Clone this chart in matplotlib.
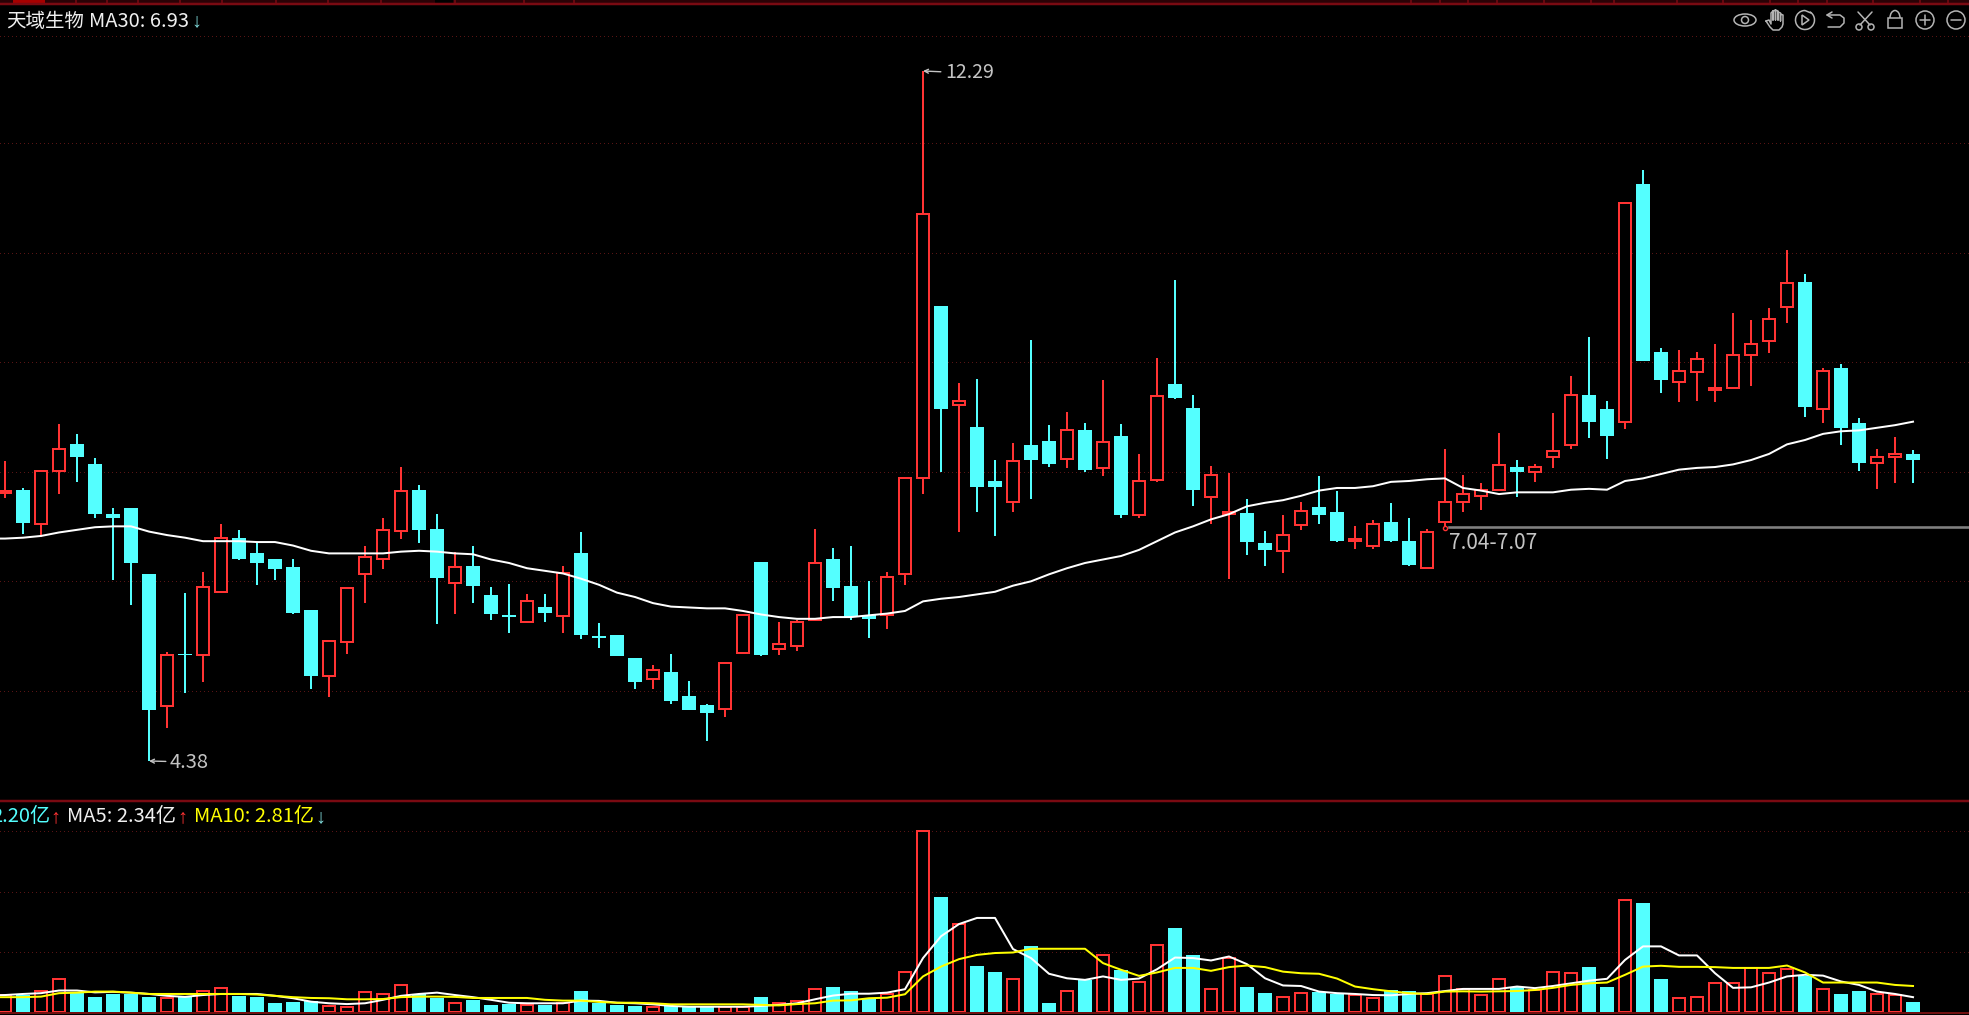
import matplotlib
matplotlib.use("Agg")
import matplotlib.pyplot as plt
from matplotlib.patches import Circle, Ellipse, Rectangle, Arc, Polygon

plt.rcParams['font.family'] = ['Noto Sans CJK SC', 'DejaVu Sans']

# daily k-line, prices
opens = [7.45, 7.49, 7.10, 7.70, 8.01, 7.79, 7.21, 7.28, 6.52, 5.01, 5.61, 5.59, 6.32, 6.94, 6.77, 6.70, 6.60, 6.11, 5.35, 5.74,
         6.52, 6.70, 7.02, 7.49, 7.04, 6.42, 6.62, 6.28, 6.05, 5.97, 6.14, 6.04, 6.76, 5.81, 5.83, 5.56, 5.32, 5.40, 5.13, 5.02,
         4.98, 5.62, 6.66, 5.66, 5.70, 6.00, 6.69, 6.39, 6.05, 6.05, 6.52, 7.63, 9.60, 8.46, 8.21, 7.59, 7.35, 8.00, 8.05, 7.84,
         8.18, 7.74, 8.11, 7.20, 7.60, 8.70, 8.43, 7.41, 7.21, 7.22, 6.88, 6.79, 7.08, 7.29, 7.24, 6.90, 6.84, 7.12, 6.90, 6.59,
         7.12, 7.35, 7.42, 7.49, 7.75, 7.69, 7.86, 8.00, 8.58, 8.41, 8.27, 11.00, 9.07, 8.72, 8.84, 8.63, 8.66, 9.03, 9.20, 9.59,
         9.87, 8.42, 8.89, 8.25, 7.80, 7.86, 7.90]
closes = [7.47, 7.11, 7.70, 7.96, 7.86, 7.21, 7.17, 6.65, 4.96, 5.60, 5.59, 6.38, 6.94, 6.70, 6.65, 6.58, 6.08, 5.35, 5.76, 6.36,
          6.72, 7.03, 7.48, 7.03, 6.48, 6.60, 6.39, 6.07, 6.03, 6.21, 6.08, 6.53, 5.82, 5.79, 5.58, 5.29, 5.42, 5.07, 4.96, 4.93,
          5.50, 6.05, 5.60, 5.72, 5.97, 6.65, 6.36, 6.03, 6.01, 6.49, 7.63, 10.65, 8.41, 8.51, 7.52, 7.52, 7.82, 7.83, 7.79, 8.18,
          7.72, 8.04, 7.20, 7.59, 8.56, 8.54, 7.49, 7.66, 7.24, 6.89, 6.80, 6.97, 7.25, 7.20, 6.90, 6.93, 7.10, 6.90, 6.63, 7.01,
          7.35, 7.44, 7.49, 7.77, 7.69, 7.75, 7.93, 8.58, 8.27, 8.11, 10.78, 8.97, 8.75, 8.85, 8.99, 8.66, 9.03, 9.16, 9.45, 9.86,
          8.44, 8.85, 8.20, 7.80, 7.86, 7.90, 7.83]
highs = [7.82, 7.51, 7.72, 8.24, 8.13, 7.85, 7.28, 7.28, 6.52, 5.63, 6.31, 6.55, 7.10, 7.03, 6.89, 6.70, 6.69, 6.11, 5.76, 6.36,
         6.85, 7.17, 7.75, 7.54, 7.21, 6.78, 6.85, 6.38, 6.41, 6.30, 6.30, 6.62, 7.00, 5.96, 5.83, 5.56, 5.48, 5.61, 5.30, 5.03,
         5.50, 6.05, 6.66, 5.97, 6.00, 7.04, 6.82, 6.85, 6.44, 6.55, 7.63, 12.29, 9.60, 8.71, 8.76, 7.83, 8.03, 9.21, 8.23, 8.38,
         8.26, 8.75, 8.24, 7.90, 9.00, 9.89, 8.58, 7.76, 7.68, 7.38, 7.02, 7.20, 7.35, 7.65, 7.48, 7.07, 7.14, 7.34, 7.17, 7.04,
         7.96, 7.66, 7.57, 8.14, 7.83, 7.79, 8.37, 8.79, 9.24, 8.51, 10.78, 11.16, 9.12, 9.09, 9.07, 9.16, 9.52, 9.44, 9.57, 10.24,
         9.96, 8.88, 8.93, 8.31, 7.96, 8.09, 7.95]
lows = [7.40, 6.98, 6.95, 7.44, 7.58, 7.16, 6.45, 6.17, 4.38, 4.76, 5.16, 5.28, 6.31, 6.68, 6.40, 6.45, 6.06, 5.21, 5.11, 5.61,
        6.19, 6.58, 6.93, 6.88, 5.95, 6.07, 6.19, 6.00, 5.85, 5.96, 5.97, 5.85, 5.78, 5.68, 5.58, 5.20, 5.21, 5.03, 4.96, 4.61,
        4.89, 5.61, 5.58, 5.59, 5.64, 5.98, 6.21, 6.00, 5.79, 5.89, 6.40, 7.44, 7.69, 7.00, 7.24, 6.96, 7.23, 7.38, 7.75, 7.74,
        7.69, 7.65, 7.17, 7.16, 7.58, 8.53, 7.30, 7.10, 6.47, 6.74, 6.62, 6.54, 7.03, 7.10, 6.89, 6.81, 6.81, 6.89, 6.61, 6.58,
        7.05, 7.23, 7.26, 7.47, 7.41, 7.58, 7.74, 7.96, 8.08, 7.84, 8.19, 8.96, 8.60, 8.49, 8.51, 8.49, 8.64, 8.68, 9.06, 9.40,
        8.32, 8.26, 8.00, 7.71, 7.50, 7.57, 7.57]
# the first entry of each line lies one day left of the picture
ma30 = [6.93, 6.93, 6.94, 6.96, 7.00, 7.03, 7.06, 7.07, 7.07, 7.01, 6.97, 6.94, 6.90, 6.90, 6.90, 6.89, 6.89, 6.85, 6.79, 6.76, 6.76,
        6.76, 6.76, 6.78, 6.79, 6.78, 6.76, 6.75, 6.69, 6.65, 6.59, 6.56, 6.53, 6.47, 6.40, 6.31, 6.26, 6.19, 6.15, 6.14, 6.13,
        6.13, 6.10, 6.06, 6.03, 6.01, 6.01, 6.03, 6.03, 6.05, 6.07, 6.10, 6.21, 6.24, 6.26, 6.29, 6.32, 6.39, 6.44, 6.52, 6.59,
        6.65, 6.69, 6.73, 6.80, 6.90, 7.00, 7.07, 7.15, 7.21, 7.30, 7.34, 7.37, 7.42, 7.48, 7.51, 7.51, 7.53, 7.58, 7.59, 7.61,
        7.62, 7.51, 7.48, 7.44, 7.46, 7.46, 7.46, 7.49, 7.50, 7.49, 7.59, 7.62, 7.67, 7.72, 7.74, 7.75, 7.78, 7.83, 7.90, 8.01,
        8.06, 8.13, 8.16, 8.17, 8.20, 8.23, 8.27]

# volume panel, in 亿
volume = [2.46, 2.46, 2.60, 3.08, 2.53, 2.39, 2.50, 2.50, 2.40, 2.34, 2.38, 2.63, 2.74, 2.44, 2.39, 2.15, 2.19, 2.24, 2.05, 2.02,
          2.59, 2.51, 2.85, 2.50, 2.34, 2.17, 2.28, 2.09, 2.12, 2.09, 2.09, 2.15, 2.61, 2.15, 2.09, 2.05, 2.02, 2.05, 2.00, 2.02,
          2.02, 2.02, 2.38, 2.17, 2.25, 2.70, 2.77, 2.61, 2.34, 2.50, 3.31, 8.63, 6.15, 5.12, 3.56, 3.33, 3.08, 4.31, 2.16, 2.63,
          3.03, 3.96, 3.41, 2.94, 4.34, 4.99, 3.97, 2.70, 3.85, 2.77, 2.54, 2.40, 2.53, 2.58, 2.50, 2.46, 2.36, 2.65, 2.61, 2.49,
          3.16, 2.69, 2.48, 3.08, 2.75, 2.64, 3.31, 3.27, 3.52, 2.77, 6.02, 5.94, 3.07, 2.36, 2.40, 2.93, 2.93, 3.46, 3.28, 3.43,
          3.19, 2.70, 2.50, 2.61, 2.49, 2.46, 2.20]
vol_ma5 = [2.44, 2.46, 2.50, 2.53, 2.63, 2.63, 2.56, 2.58, 2.55, 2.50, 2.43, 2.39, 2.46, 2.50, 2.50, 2.50, 2.43, 2.34, 2.21, 2.15, 2.12,
           2.15, 2.28, 2.43, 2.50, 2.55, 2.46, 2.38, 2.28, 2.17, 2.15, 2.15, 2.15, 2.25, 2.24, 2.17, 2.15, 2.11, 2.05, 2.02, 2.02,
           2.02, 2.02, 2.05, 2.09, 2.15, 2.30, 2.44, 2.51, 2.51, 2.55, 2.68, 3.85, 4.67, 5.13, 5.36, 5.36, 4.19, 3.85, 3.26, 3.09,
           3.03, 3.16, 3.03, 3.08, 3.43, 3.87, 3.85, 3.76, 3.91, 3.62, 3.09, 2.82, 2.80, 2.59, 2.53, 2.50, 2.46, 2.45, 2.50, 2.53,
           2.61, 2.69, 2.69, 2.69, 2.78, 2.72, 2.80, 2.90, 3.00, 3.07, 3.78, 4.29, 4.29, 3.95, 3.95, 3.28, 2.73, 2.75, 2.93, 3.16,
           3.22, 3.19, 2.97, 2.84, 2.59, 2.50, 2.38]
vol_ma10 = [2.38, 2.38, 2.38, 2.40, 2.53, 2.55, 2.59, 2.59, 2.55, 2.50, 2.50, 2.50, 2.50, 2.50, 2.50, 2.48, 2.43, 2.38, 2.35, 2.34, 2.30,
            2.30, 2.31, 2.38, 2.40, 2.40, 2.39, 2.35, 2.35, 2.35, 2.35, 2.28, 2.25, 2.25, 2.20, 2.17, 2.17, 2.15, 2.11, 2.11, 2.11,
            2.11, 2.11, 2.09, 2.07, 2.12, 2.15, 2.25, 2.26, 2.34, 2.36, 2.49, 3.16, 3.53, 3.81, 3.97, 4.04, 4.06, 4.20, 4.20, 4.20,
            4.20, 3.66, 3.41, 3.18, 3.31, 3.48, 3.48, 3.37, 3.51, 3.57, 3.51, 3.34, 3.28, 3.26, 3.08, 2.78, 2.68, 2.60, 2.53, 2.50,
            2.59, 2.60, 2.59, 2.60, 2.61, 2.65, 2.73, 2.84, 2.90, 2.93, 3.22, 3.53, 3.56, 3.52, 3.52, 3.51, 3.48, 3.48, 3.48, 3.57,
            3.31, 2.93, 2.93, 2.93, 2.93, 2.84, 2.80]

price_grid = [12.69, 11.46, 10.20, 8.95, 7.69, 6.44, 5.18]
vol_grid = [8.62, 6.35, 4.06]
vol_floor = 1.835
tab_ticks = [76, 107, 138, 180, 222, 276, 328, 381, 455, 524, 574,
             1411, 1440, 1468, 1497, 1544, 1591, 1614, 1677, 1723, 1770, 1798, 1827, 1873, 1920, 1948]

BG = '#000000'
UP = '#FF3333'
DOWN = '#54FFFF'
FRAME = '#7A0A12'
GRID = '#581414'
GRAY = '#C4C4C4'
ICON = '#B4B4B4'

W, H = 1969, 1015
px = 72 / 100  # one picture pixel in points

fig = plt.figure(figsize=(W / 100, H / 100), dpi=100, facecolor=BG)
ax_p = fig.add_axes([0, (H - 800) / H, 1, 796 / H], facecolor=BG)
ax_v = fig.add_axes([0, 0, 1, (H - 800) / H], facecolor=BG)
over = fig.add_axes([0, 0, 1, 1], facecolor='none', zorder=10)
over.set_xlim(0, W)
over.set_ylim(H, 0)
over.axis('off')

xs = list(range(len(opens)))
line_xs = [-1] + xs
xlim = (-0.278, 109.11)

# ---- price panel
for y in price_grid:
    ax_p.axhline(y, color=GRID, lw=1 * px, ls=(0, (1, 3)), antialiased=False, zorder=0)
for i in xs:
    up = closes[i] >= opens[i]
    c = UP if up else DOWN
    ax_p.vlines(i, lows[i], highs[i], color=c, lw=2 * px, zorder=1)
    if up:
        ax_p.bar(i, closes[i] - opens[i], bottom=opens[i], width=0.68, facecolor=BG, edgecolor=c, linewidth=2 * px, zorder=2)
    else:
        ax_p.bar(i, opens[i] - closes[i], bottom=closes[i], width=0.78, color=c, linewidth=0, zorder=2)
ax_p.plot(line_xs, ma30, color='#FFFFFF', lw=2 * px, zorder=3)

ax_p.annotate('12.29', xy=(51, 12.29), xytext=(22, -2), textcoords='offset pixels', color=GRAY, fontsize=14, va='center',
              arrowprops=dict(arrowstyle='->', color=GRAY, lw=1.0, shrinkA=1, shrinkB=0, mutation_scale=7))
ax_p.annotate('4.38', xy=(8, 4.38), xytext=(21, -1), textcoords='offset pixels', color=GRAY, fontsize=14.5, va='center',
              arrowprops=dict(arrowstyle='->', color=GRAY, lw=1.0, shrinkA=1, shrinkB=0, mutation_scale=7))
ax_p.plot([80.2, xlim[1]], [7.06, 7.06], color='#808080', lw=2.6 * px, zorder=3)
ax_p.plot([80], [7.05], 'o', ms=3, mfc=BG, mec=UP, mew=1, zorder=4)
ax_p.text(80.2, 6.88, '7.04-7.07', color=GRAY, fontsize=15, va='center', ha='left')
ax_p.set_xlim(*xlim)
ax_p.set_ylim(3.933, 13.058)
ax_p.axis('off')

# ---- volume panel
for y in vol_grid:
    ax_v.axhline(y, color=GRID, lw=1 * px, ls=(0, (1, 3)), antialiased=False, zorder=0)
for i in xs:
    if closes[i] >= opens[i]:
        ax_v.bar(i, volume[i] - vol_floor, bottom=vol_floor, width=0.68, facecolor=BG, edgecolor=UP, linewidth=2 * px, zorder=2)
    else:
        ax_v.bar(i, volume[i] - vol_floor, bottom=vol_floor, width=0.78, color=DOWN, linewidth=0, zorder=2)
ax_v.plot(line_xs, vol_ma5, color='#FFFFFF', lw=2 * px, zorder=3)
ax_v.plot(line_xs, vol_ma10, color='#FFFF00', lw=2 * px, zorder=4)
ax_v.set_xlim(*xlim)
ax_v.set_ylim(1.709, 9.796)
ax_v.axis('off')

# ---- frame lines and the tab strip above the chart
over.add_patch(Rectangle((0, 0), W, 3, facecolor='#2A0206', edgecolor='none'))
over.plot([0, W], [4, 4], color=FRAME, lw=2.5 * px)
for t in tab_ticks:
    over.plot([t, t], [0, 4], color=FRAME, lw=1.5 * px)
over.add_patch(Rectangle((13, 0), 32, 3, facecolor='#A80000', edgecolor='none'))
over.add_patch(Rectangle((435, 0), 18, 3, facecolor=BG, edgecolor='none'))
over.plot([0, W], [800.7, 800.7], color=FRAME, lw=2.5 * px)
over.plot([0, W], [1012.7, 1012.7], color='#701010', lw=2 * px, zorder=1)

# ---- header texts
fs = 14.5
arrow_font = ['Liberation Sans', 'DejaVu Sans']
over.text(6, 21, '天域生物', color='#F0F0F0', fontsize=14, va='center')
over.text(89, 21, 'MA30: 6.93', color='#F0F0F0', fontsize=fs, va='center')
over.text(196, 21, '↓', color='#7FD8D8', fontsize=fs, va='center', ha='center', family=arrow_font)
over.text(50, 817, '2.20亿', color=DOWN, fontsize=fs, va='center', ha='right')
over.text(55, 817, '↑', color=UP, fontsize=fs, va='center', ha='center', family=arrow_font)
over.text(67, 817, 'MA5: 2.34亿', color='#F0F0F0', fontsize=fs, va='center')
over.text(182, 817, '↑', color=UP, fontsize=fs, va='center', ha='center', family=arrow_font)
over.text(194, 817, 'MA10: 2.81亿', color='#FFFF00', fontsize=fs, va='center')
over.text(320, 817, '↓', color='#7FD8D8', fontsize=fs, va='center', ha='center', family=arrow_font)


# ---- toolbar icons, top right
def line(xx, yy):
    over.plot(xx, yy, color=ICON, lw=1.1, solid_capstyle='round')


def patch(p):
    p.set(edgecolor=ICON, facecolor='none', linewidth=1.1)
    over.add_patch(p)


# eye
patch(Ellipse((1745, 20), 22, 12))
patch(Circle((1745, 20), 3.5))
# hand
line([1766, 1769, 1771, 1771, 1773, 1773, 1773, 1775.5, 1775.5, 1775.5, 1778, 1778, 1778, 1780.5, 1780.5, 1780.5, 1783, 1783, 1782, 1779, 1773, 1770, 1766],
     [21, 20, 24, 13, 11, 20, 11, 10, 20, 10, 11, 20, 12, 13, 21, 14, 15, 24, 27, 30, 30, 27, 21])
# replay
patch(Arc((1805, 20), 19, 19, theta1=-60, theta2=270))
patch(Polygon([[1802, 15], [1802, 25], [1809, 20]]))
line([1805, 1811], [10.5, 13])
# undo
line([1827, 1840, 1844, 1844, 1840, 1828], [15, 15, 18, 23, 27, 27])
line([1832, 1827, 1832], [12, 15, 18])
# scissors
line([1858, 1870], [12, 25])
line([1872, 1860], [12, 25])
patch(Circle((1859, 27), 3))
patch(Circle((1871, 27), 3))
# lock
patch(Rectangle((1888, 18), 14, 10))
patch(Arc((1895, 18), 10, 15, theta1=180, theta2=360))
# zoom in / out
patch(Circle((1925, 20), 9))
line([1920, 1930], [20, 20])
line([1925, 1925], [15, 25])
patch(Circle((1956, 20), 9))
line([1951, 1961], [20, 20])

fig.savefig('out.png', dpi=100, facecolor=BG)
